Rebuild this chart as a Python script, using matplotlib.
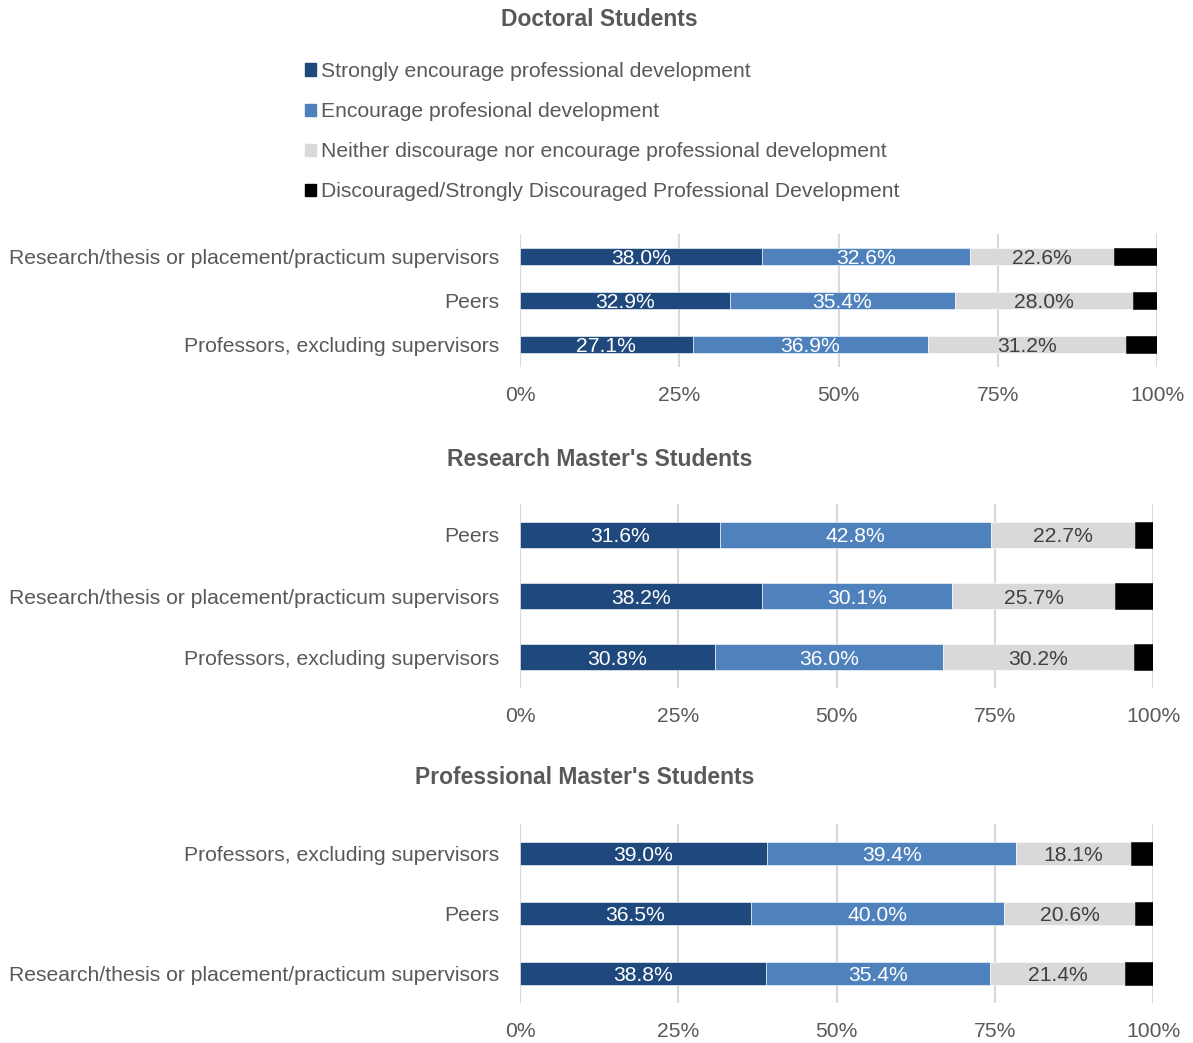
import numpy as np
import matplotlib.pyplot as plt
from matplotlib.patches import Patch

plt.rcParams['font.family'] = ['Liberation Sans', 'DejaVu Sans']

series = ["Strongly encourage professional development",
          "Encourage profesional development",
          "Neither discourage nor encourage professional development",
          "Discouraged/Strongly Discouraged Professional Development"]
colors = ["#1F497D", "#4F81BD", "#D9D9D9", "#000000"]
text_colors = ["white", "white", "#404040"]

# panel 1 - doctoral
doc_cats = ["Research/thesis or placement/practicum supervisors", "Peers",
            "Professors, excluding supervisors"]
doc_strong = [38.0, 32.9, 27.1]
doc_enc = [32.6, 35.4, 36.9]
doc_neither = [22.6, 28.0, 31.2]
doc_disc = [6.8, 3.7, 4.8]

# panel 2 - research master's
rm_cats = ["Peers", "Research/thesis or placement/practicum supervisors",
           "Professors, excluding supervisors"]
rm_strong = [31.6, 38.2, 30.8]
rm_enc = [42.8, 30.1, 36.0]
rm_neither = [22.7, 25.7, 30.2]
rm_disc = [2.9, 6.0, 3.0]

# panel 3 - professional master's
pm_cats = ["Professors, excluding supervisors", "Peers",
           "Research/thesis or placement/practicum supervisors"]
pm_strong = [39.0, 36.5, 38.8]
pm_enc = [39.4, 40.0, 35.4]
pm_neither = [18.1, 20.6, 21.4]
pm_disc = [3.5, 2.9, 4.4]

W, H = 1193, 1043
fig = plt.figure(figsize=(W / 100, H / 100), dpi=100)

gray = "#595959"
fs = 15.2


def panel(rect_px, title, title_xy, cats, vals, bar_h):
    left, top, right, bottom = rect_px
    ax = fig.add_axes([left / W, 1 - bottom / H, (right - left) / W, (bottom - top) / H])
    y = np.arange(len(cats))
    start = np.zeros(len(cats))
    for i, v in enumerate(vals):
        v = np.array(v)
        ax.barh(y, v, left=start, height=bar_h, color=colors[i],
                edgecolor="white" if i < 3 else colors[i], linewidth=0.4, zorder=3)
        if i < 3:
            for yy, s, w in zip(y, start, v):
                ax.text(s + w / 2, yy, f"{w:.1f}%", ha="center", va="center_baseline",
                        color=text_colors[i], fontsize=fs, zorder=4)
        start = start + v
    ax.set_xlim(0, 100)
    ax.set_ylim(len(cats) - 0.5, -0.5)
    ax.set_yticks(y)
    ax.set_yticklabels(cats)
    ax.set_xticks([0, 25, 50, 75, 100])
    ax.set_xticklabels(["0%", "25%", "50%", "75%", "100%"])
    ax.tick_params(length=0, labelsize=fs, labelcolor=gray)
    ax.tick_params(axis="x", pad=14)
    ax.tick_params(axis="y", pad=15)
    ax.grid(axis="x", color="#D9D9D9", linewidth=1.5, zorder=0)
    for sp in ax.spines.values():
        sp.set_visible(False)
    fig.text(title_xy[0] / W, 1 - title_xy[1] / H, title, ha="center", va="center",
             fontsize=16.5, fontweight="bold", color=gray)
    return ax


panel((520, 234, 1157, 367), "Doctoral Students", (599, 19), doc_cats,
      [doc_strong, doc_enc, doc_neither, doc_disc], 0.38)
panel((520, 504, 1153, 688), "Research Master's Students", (600, 460), rm_cats,
      [rm_strong, rm_enc, rm_neither, rm_disc], 0.42)
panel((520, 824, 1153, 1003), "Professional Master's Students", (585, 778), pm_cats,
      [pm_strong, pm_enc, pm_neither, pm_disc], 0.39)

handles = [Patch(color=c) for c in colors]
leg = fig.legend(handles, series, loc="upper left", bbox_to_anchor=(305 / W, 1 - 62 / H),
                 frameon=False, fontsize=fs, handlelength=0.5, handleheight=0.5,
                 handletextpad=0.25, labelspacing=1.0, borderaxespad=0, borderpad=0)
for t in leg.get_texts():
    t.set_color(gray)

fig.savefig("out.png", dpi=100)
